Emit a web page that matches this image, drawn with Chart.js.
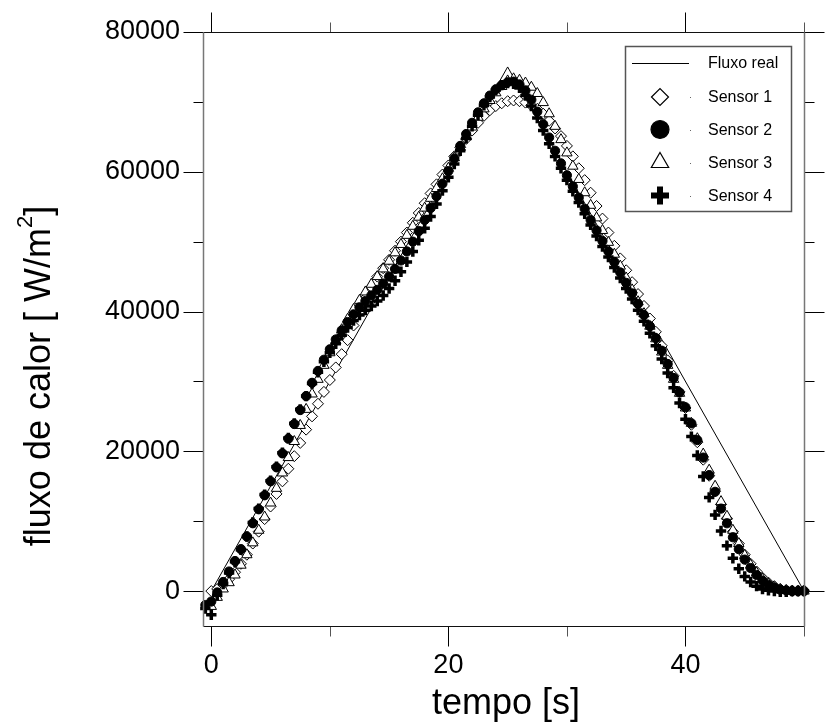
<!DOCTYPE html>
<html>
<head>
<meta charset="utf-8">
<script src="https://cdn.jsdelivr.net/npm/chart.js@4/dist/chart.umd.min.js"></script>
<style>
  html, body { margin: 0; padding: 0; background: #fff; }
  canvas { display: block; }
</style>
</head>
<body>
<canvas id="grafico" width="825" height="724"></canvas>
<script>
// Sampling instants of the estimates [s]
const tempo = [
  -0.5, 0, 0.5, 1, 1.5, 2, 2.5, 3, 3.5, 4, 4.5, 5, 5.5, 6, 6.5, 7, 7.5, 8, 8.5, 9, 9.5,
  10, 10.5, 11, 11.5, 12, 12.5, 13, 13.5, 14, 14.5, 15, 15.5, 16, 16.5, 17, 17.5, 18, 18.5, 19, 19.5,
  20, 20.5, 21, 21.5, 22, 22.5, 23, 23.5, 24, 24.5, 25, 25.5, 26, 26.5, 27, 27.5, 28, 28.5, 29, 29.5,
  30, 30.5, 31, 31.5, 32, 32.5, 33, 33.5, 34, 34.5, 35, 35.5, 36, 36.5, 37, 37.5, 38, 38.5, 39, 39.5,
  40, 40.5, 41, 41.5, 42, 42.5, 43, 43.5, 44, 44.5, 45, 45.5, 46, 46.5, 47, 47.5, 48, 48.5, 49, 49.5, 50
];

// Heat flux estimated from each sensor [W/m2]
const sensor1 = [
  null, 0, 300, 900, 1700, 2700, 3900, 5200, 6800, 8500, 10300, 12100, 13900, 15700, 17500, 19300, 21200, 23100, 25000, 26800, 28500,
  30200, 32000, 33900, 35900, 38000, 40000, 41900, 43500, 45000, 46200, 47400, 48700, 50000, 51300, 52700, 54100, 55500, 56900, 58200, 59600,
  60900, 62200, 63500, 64700, 65900, 67000, 68000, 68800, 69400, 69800, 70100, 70200, 70100, 69900, 69500, 69000, 68300, 67300, 66200, 65100,
  63700, 62200, 60500, 58800, 57000, 55100, 53300, 51300, 49400, 47600, 45900, 44200, 42500, 40800, 39000, 37100, 35100, 33000, 30800, 28500,
  26200, 23800, 21300, 18800, 16500, 14300, 12400, 10400, 8500, 6800, 5200, 3900, 2800, 1900, 1200, 700, 300, 100, 0, 0, 0
];
const sensor2 = [
  -2000, -1500, -200, 1300, 2800, 4300, 6000, 7800, 9700, 11700, 13700, 15700, 17700, 19700, 21800, 23900, 25900, 27900, 29800, 31500, 33100,
  34600, 36000, 37300, 38500, 39600, 40600, 41500, 42300, 43100, 44000, 45000, 46100, 47300, 48600, 50000, 51500, 53100, 54800, 56500, 58300,
  60100, 61900, 63700, 65400, 67000, 68500, 69800, 70900, 71800, 72400, 72800, 72900, 72500, 71600, 70300, 68600, 66800, 64900, 63000, 61200,
  59500, 57900, 56300, 54700, 53100, 51600, 50100, 48600, 47100, 45600, 44100, 42600, 41100, 39500, 37900, 36200, 34400, 32500, 30500, 28400,
  26300, 24000, 21600, 19100, 16600, 14200, 11800, 9700, 7700, 6000, 4500, 3300, 2300, 1500, 900, 500, 200, 100, 0, 0, 0
];
const sensor3 = [
  null, -2200, -900, 300, 1200, 2300, 3700, 5200, 6900, 8700, 10600, 12600, 14700, 16900, 19100, 21400, 23700, 26000, 28200, 30300, 32300,
  34100, 35800, 37400, 38900, 40300, 41600, 42800, 43900, 45000, 46100, 47200, 48400, 49600, 50900, 52200, 53500, 54800, 56200, 57600, 59000,
  60500, 62000, 63500, 65000, 66400, 67800, 69000, 70200, 71300, 72200, 73000, 73300, 73100, 72700, 72100, 71200, 69900, 68300, 66500, 64600,
  62700, 60800, 58900, 57000, 55200, 53400, 51600, 49900, 48200, 46500, 44800, 43100, 41400, 39700, 37900, 36100, 34200, 32300, 30300, 28300,
  26200, 24000, 21800, 19600, 17300, 15000, 12800, 10700, 8700, 6800, 5100, 3700, 2600, 1700, 1000, 500, 200, 100, 0, 0, 0
];
const sensor4 = [
  -2500, -3400, -600, 1000, 2600, 4200, 5900, 7800, 9800, 11800, 13800, 15800, 17800, 19800, 21900, 24000, 26000, 27900, 29700, 31300, 32800,
  34100, 35400, 36600, 37700, 38700, 39500, 40200, 40800, 41500, 42300, 43300, 44400, 45700, 47100, 48600, 50200, 51900, 53600, 55400, 57300,
  59200, 61100, 63000, 64800, 66500, 68100, 69500, 70700, 71700, 72400, 72700, 72600, 72000, 70900, 69400, 67700, 65900, 64000, 62200, 60500,
  58800, 57200, 55600, 54000, 52400, 50800, 49300, 47800, 46300, 44800, 43300, 41800, 40200, 38600, 36900, 35100, 33200, 31200, 29100, 26900,
  24600, 22100, 19400, 16400, 13400, 10900, 8600, 6500, 4700, 3200, 2100, 1300, 700, 300, 100, 0, -100, -100, 0, 0, 0
];

// Imposed (real) heat flux: triangular pulse
const tempoReal = [0, 25, 50];
const fluxoReal = [0, 75000, 0];

// Axis ticks
const xMajor = [0, 20, 40];
const xMinor = [10, 30, 50];
const yMajor = [0, 20000, 40000, 60000, 80000];
const yMinor = [10000, 30000, 50000, 70000];

const nomes = ['Fluxo real', 'Sensor 1', 'Sensor 2', 'Sensor 3', 'Sensor 4'];

const FONTE = '"Liberation Sans", Arial, Helvetica, sans-serif';
Chart.defaults.font.family = FONTE;
Chart.defaults.color = '#000';

function pontos(xs, ys) {
  const out = [];
  for (let i = 0; i < xs.length; i++) {
    if (ys[i] !== null && ys[i] !== undefined) out.push({ x: xs[i], y: ys[i] });
  }
  return out;
}

// Frame with outward major/minor ticks on all four sides
const molduraPlugin = {
  id: 'moldura',
  afterDatasetsDraw(chart) {
    const { ctx, chartArea: a, scales: { x, y } } = chart;
    ctx.save();
    ctx.lineCap = 'butt';
    const seg = (x1, y1, x2, y2, cor, lw) => {
      ctx.strokeStyle = cor; ctx.lineWidth = lw;
      ctx.beginPath(); ctx.moveTo(x1, y1); ctx.lineTo(x2, y2); ctx.stroke();
    };
    const L = Math.round(a.left) + 0.5, R = Math.round(a.right) + 0.5;
    const T = Math.round(a.top) + 0.5, B = Math.round(a.bottom) + 0.5;
    xMajor.forEach(v => {
      const p = Math.round(x.getPixelForValue(v)) + 0.5;
      seg(p, B, p, B + 20, '#000', 1);
      seg(p, T, p, T - 20, '#000', 1);
    });
    xMinor.forEach(v => {
      const p = Math.round(x.getPixelForValue(v)) + 0.5;
      seg(p, B, p, B + 10, '#555', 1);
      seg(p, T, p, T - 10, '#555', 1);
    });
    yMajor.forEach(v => {
      const p = Math.round(y.getPixelForValue(v)) + 0.5;
      seg(L - 20, p, L, p, '#000', 1);
      seg(R, p, R + 20, p, '#000', 1);
    });
    yMinor.forEach(v => {
      const p = Math.round(y.getPixelForValue(v)) + 0.5;
      seg(L - 10, p, L, p, '#000', 1);
      seg(R, p, R + 10, p, '#000', 1);
    });
    seg(L, T, R, T, '#111', 1);
    seg(L, B, R, B, '#111', 1);
    seg(L, T, L, B, '#777', 1.5);
    seg(R, T, R, B, '#777', 1.5);
    ctx.restore();
  }
};

// Boxed legend in the upper right corner
const legendaPlugin = {
  id: 'legenda',
  afterDraw(chart) {
    const { ctx } = chart;
    const ds = chart.data.datasets;
    ctx.save();
    ctx.fillStyle = '#fff';
    ctx.fillRect(625.5, 46.5, 166, 165);
    ctx.strokeStyle = '#555';
    ctx.lineWidth = 1.5;
    ctx.strokeRect(625.5, 46.5, 166, 165);
    const linhas = [63, 97, 129.5, 162.5, 195.5];
    const escala = [0, 8.5, 9, 10, 9];
    ctx.font = '16px ' + FONTE;
    ctx.textBaseline = 'middle';
    ctx.textAlign = 'left';
    nomes.forEach((nome, i) => {
      const yy = linhas[i];
      if (i === 0) {
        ctx.strokeStyle = '#000'; ctx.lineWidth = 1;
        ctx.beginPath(); ctx.moveTo(632, yy + 0.5); ctx.lineTo(689, yy + 0.5); ctx.stroke();
      } else {
        const d = ds[i];
        ctx.fillStyle = d.backgroundColor;
        ctx.strokeStyle = d.borderColor;
        ctx.lineWidth = d.pointStyle === 'cross' ? 6 : 1.2;
        Chart.helpers.drawPoint(ctx, {
          pointStyle: d.pointStyle,
          radius: escala[i],
          borderWidth: ctx.lineWidth,
          rotation: 0
        }, 660, yy);
        ctx.fillStyle = '#666';
        ctx.fillRect(690, Math.round(yy), 1, 1);
      }
      ctx.fillStyle = '#000';
      ctx.fillText(nome, 708, yy + 1);
    });
    ctx.restore();
  }
};

// Axis titles
const TAM_TITULO = 36;
const titulosPlugin = {
  id: 'titulos',
  afterDraw(chart) {
    const { ctx } = chart;
    ctx.save();
    ctx.fillStyle = '#000';
    ctx.textBaseline = 'middle';
    ctx.font = TAM_TITULO + 'px ' + FONTE;
    ctx.textAlign = 'center';
    ctx.fillText('tempo [s]', 506, 704);

    const parte1 = 'fluxo de calor [ W/m';
    const sup = '2';
    const parte2 = ']';
    const tamSup = Math.round(TAM_TITULO * 0.62);
    ctx.font = TAM_TITULO + 'px ' + FONTE;
    const w1 = ctx.measureText(parte1).width;
    const w3 = ctx.measureText(parte2).width;
    ctx.font = tamSup + 'px ' + FONTE;
    const w2 = ctx.measureText(sup).width;
    const total = w1 + w2 + w3;
    ctx.translate(40, 376);
    ctx.rotate(-Math.PI / 2);
    ctx.textAlign = 'left';
    let px = -total / 2;
    ctx.font = TAM_TITULO + 'px ' + FONTE;
    ctx.fillText(parte1, px, 0);
    px += w1;
    ctx.font = tamSup + 'px ' + FONTE;
    ctx.fillText(sup, px, -TAM_TITULO * 0.38);
    px += w2;
    ctx.font = TAM_TITULO + 'px ' + FONTE;
    ctx.fillText(parte2, px, 0);
    ctx.restore();
  }
};

const ctx = document.getElementById('grafico').getContext('2d');
new Chart(ctx, {
  type: 'scatter',
  data: {
    datasets: [
      {
        label: nomes[0], data: pontos(tempoReal, fluxoReal), showLine: true,
        borderColor: '#000', backgroundColor: '#000', borderWidth: 1, pointRadius: 0, order: 5
      },
      {
        label: nomes[1], data: pontos(tempo, sensor1), pointStyle: 'rectRot', pointRadius: 5.5,
        borderColor: '#000', backgroundColor: '#fff', borderWidth: 1, order: 4, clip: false
      },
      {
        label: nomes[2], data: pontos(tempo, sensor2), pointStyle: 'circle', pointRadius: 4.6,
        borderColor: '#000', backgroundColor: '#000', borderWidth: 1, order: 2, clip: false
      },
      {
        label: nomes[3], data: pontos(tempo, sensor3), pointStyle: 'triangle', pointRadius: 6,
        borderColor: '#000', backgroundColor: '#fff', borderWidth: 1, order: 3, clip: false
      },
      {
        label: nomes[4], data: pontos(tempo, sensor4), pointStyle: 'cross', pointRadius: 5.2,
        borderColor: '#000', backgroundColor: '#000', borderWidth: 3.5, order: 1, clip: false
      }
    ]
  },
  options: {
    responsive: false,
    animation: false,
    devicePixelRatio: 1,
    layout: { padding: { top: 32, right: 21, left: 0, bottom: 0 } },
    plugins: { legend: { display: false }, tooltip: { enabled: false } },
    elements: { point: { hoverRadius: 0 } },
    scales: {
      x: {
        type: 'linear', min: -0.7, max: 50,
        afterFit(s) { s.height = 98; },
        afterBuildTicks(s) { s.ticks = xMajor.map(v => ({ value: v })); },
        grid: { display: false, drawTicks: true, tickLength: 20 },
        border: { display: false },
        ticks: {
          font: { size: 27 }, color: '#000', padding: 3, maxRotation: 0, autoSkip: false,
          callback: v => String(v)
        }
      },
      y: {
        type: 'linear', min: -5000, max: 80000,
        afterFit(s) { s.width = 203; },
        afterBuildTicks(s) { s.ticks = yMajor.map(v => ({ value: v })); },
        grid: { display: false, drawTicks: true, tickLength: 20 },
        border: { display: false },
        ticks: {
          font: { size: 27 }, color: '#000', padding: 3, autoSkip: false,
          callback: v => String(v)
        }
      }
    }
  },
  plugins: [molduraPlugin, legendaPlugin, titulosPlugin]
});
</script>
</body>
</html>
